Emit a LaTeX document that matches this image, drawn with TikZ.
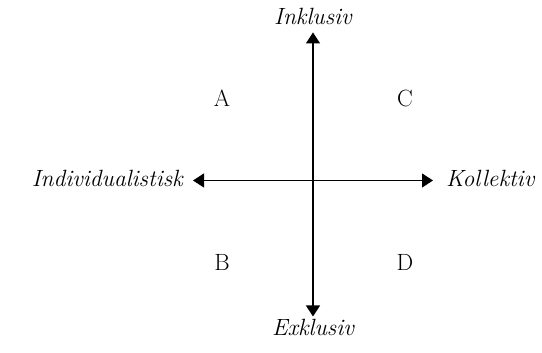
\documentclass[tikz,border=0pt]{standalone}
\usepackage{fontspec}
\usepackage{tikz}
\usetikzlibrary{positioning,arrows.meta}

\begin{document}
\begin{tikzpicture}[x=1pt,y=1pt,
  pole/.style={font=\fontsize{23.5}{28}\selectfont\itshape, inner sep=2pt},
  quad/.style={font=\fontsize{23.5}{28}\selectfont, inner sep=2pt},
  axis/.style={line width=1.1pt,
               {Triangle[width=14pt,length=11pt]}-{Triangle[width=14pt,length=11pt]}},
  ]
  \useasboundingbox (0,0) rectangle (542,353);
  \coordinate (o) at (313,172.5);
  \node[pole, anchor=base] (inkl) at (313,328) {Inklusiv};
  \node[pole, anchor=base] (exkl) at (313,17) {Exklusiv};
  \node[pole, anchor=base east] (indiv) at (185,166) {Individualistisk};
  \node[pole, anchor=base west] (koll) at (444,166) {Kollektiv};
  \node[quad] (a) at (222,254.5) {A};
  \node[quad] (c) at (405,254.5) {C};
  \node[quad] (b) at (222,91) {B};
  \node[quad] (d) at (405,91) {D};
  \draw[axis, shorten <=1pt, shorten >=5pt] (exkl.north) -- (inkl.south);
  \draw[axis, shorten <=8pt, shorten >=11pt] (indiv.east |- o) -- (koll.west |- o);
\end{tikzpicture}
\end{document}
